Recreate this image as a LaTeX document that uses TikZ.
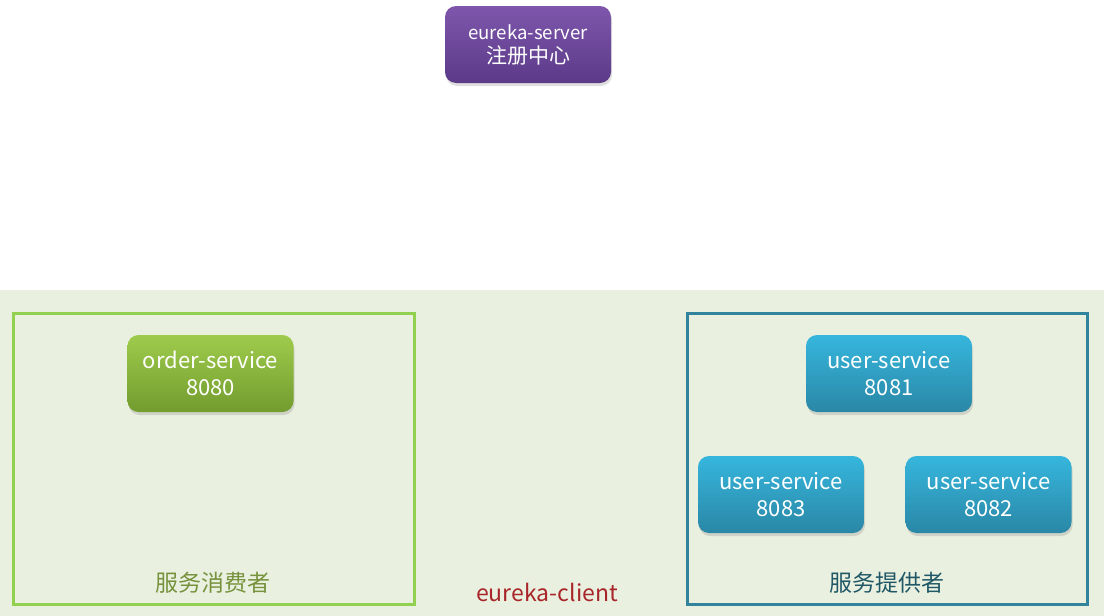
\documentclass[tikz,border=0pt]{standalone}
\usepackage{fontspec}
\setmainfont{Noto Sans CJK SC}
\usetikzlibrary{shadows}
\definecolor{bgreen}{HTML}{EAF0DF}
\definecolor{purtop}{HTML}{7E57AC}
\definecolor{purbot}{HTML}{5C3A88}
\definecolor{grtop}{HTML}{9FCB4C}
\definecolor{grbot}{HTML}{729C2E}
\definecolor{bltop}{HTML}{36B6DD}
\definecolor{blbot}{HTML}{2A87A6}
\definecolor{lgreen}{HTML}{92D050}
\definecolor{lteal}{HTML}{31849B}
\definecolor{consumer}{HTML}{76923C}
\definecolor{provider}{HTML}{205867}
\definecolor{clientred}{HTML}{A8262A}
\tikzset{
  x=1pt, y=-1pt,
  svc/.style={rounded corners=11pt, minimum width=166pt, minimum height=77pt,
    text=white, align=center, font=\fontsize{22}{27}\selectfont,
    drop shadow={shadow xshift=1pt, shadow yshift=-3pt, opacity=0.25}},
  grp/.style={draw, line width=3pt},
  lbl/.style={font=\fontsize{23}{28}\selectfont}
}
\begin{document}
\begin{tikzpicture}
\useasboundingbox (0,0) rectangle (1104,616);
\fill[white] (0,0) rectangle (1104,290);
\fill[bgreen] (0,290) rectangle (1104,616);
\draw[grp, lgreen] (13,313) rectangle (414,604);
\draw[grp, lteal] (687,313) rectangle (1087,604);
\node[svc, top color=purtop, bottom color=purbot, font=\fontsize{18.6}{24}\selectfont] (server) at (528,44.5) {eureka-server\\{\fontsize{21}{24}\selectfont 注册中心}};
\node[svc, top color=grtop, bottom color=grbot] (order) at (210.5,373.5) {order-service\\8080};
\node[svc, top color=bltop, bottom color=blbot] (u1) at (889,373.5) {user-service\\8081};
\node[svc, top color=bltop, bottom color=blbot] (u3) at (781,494.5) {user-service\\8083};
\node[svc, top color=bltop, bottom color=blbot] (u2) at (988.5,494.5) {user-service\\8082};
\node[lbl, text=consumer] (cons) at (213,583) {服务消费者};
\node[lbl, text=provider] (prov) at (887,583) {服务提供者};
\node[lbl, text=clientred] (client) at (547,592) {eureka-client};
\end{tikzpicture}
\end{document}
